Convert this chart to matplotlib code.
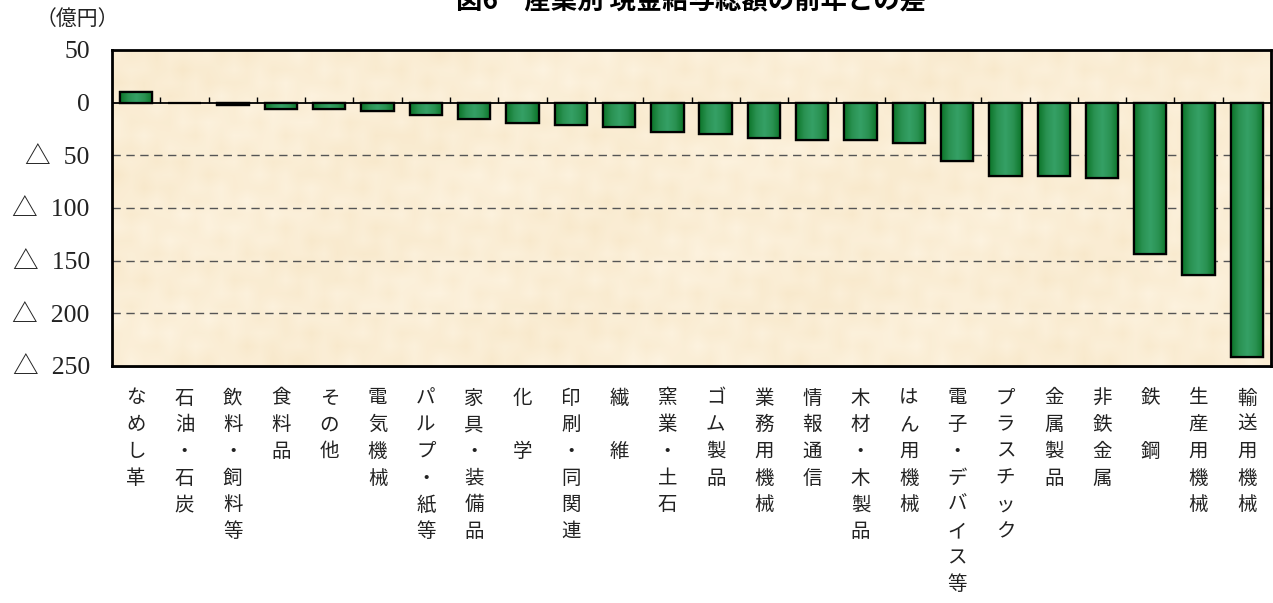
import matplotlib
matplotlib.use("Agg")
import matplotlib.pyplot as plt
import numpy as np
from matplotlib.colors import LinearSegmentedColormap
from matplotlib.patches import Rectangle
from matplotlib.transforms import blended_transform_factory

plt.rcParams["font.family"] = ["Noto Sans CJK JP", "DejaVu Sans"]

# 産業別 現金給与総額の前年との差（億円）
industries = ["なめし革", "石油・石炭", "飲料・飼料等", "食料品", "その他", "電気機械",
              "パルプ・紙等", "家具・装備品", "化　学", "印刷・同関連", "繊　維", "窯業・土石",
              "ゴム製品", "業務用機械", "情報通信", "木材・木製品", "はん用機械",
              "電子・デバイス等", "プラスチック", "金属製品", "非鉄金属", "鉄　鋼",
              "生産用機械", "輸送用機械"]
diff = [9.8, 0.0, -2.5, -6.4, -6.4, -8.0, -11.7, -15.9, -19.7, -21.6, -23.5, -27.6,
        -29.5, -33.3, -35.2, -35.2, -38.5, -55.7, -69.4, -69.4, -71.3, -144.0,
        -163.5, -241.8]
yticks = [50, 0, -50, -100, -150, -200, -250]
ytick_labels = ["50", "0", "△  50", "△  100", "△  150", "△  200", "△  250"]

W, H = 1273, 603
fig = plt.figure(figsize=(W / 100, H / 100), dpi=100)
ax = fig.add_axes([112 / W, 1 - 366 / H, 1159 / W, 316 / H])
ax.set_zorder(2)
ax.set_facecolor("#fcefd6")

# 枠の影
fig.patches.append(Rectangle((114 / W, 1 - 368 / H), 1159 / W, 316 / H,
                             transform=fig.transFigure, facecolor="#8a8a8a",
                             edgecolor="none", zorder=0))

ax.set_xlim(-0.5, len(industries) - 0.5)
ax.set_ylim(-250, 50)

# 背景の淡いまだら模様
gi, gj = np.meshgrid(np.arange(90), np.arange(24))
mottle = (np.sin(gi * 1.7 + gj * 2.3) * np.cos(gi * 0.9 - gj * 1.4)
          + 0.6 * np.sin(gi * 0.21 + gj * 0.5) * np.cos(gj * 0.33 - gi * 0.11))
paper = LinearSegmentedColormap.from_list("p", ["#fdf3e0", "#f8e8ca"])
ax.imshow(mottle, cmap=paper, aspect="auto", zorder=0, interpolation="bilinear",
          extent=(-0.5, len(industries) - 0.5, -250, 50))

x = np.arange(len(industries))
bars = ax.bar(x, diff, width=0.67, color="#1f8a45", edgecolor="black",
              linewidth=1.6, zorder=3)

# 棒の中を横方向のグラデーションで塗る
green = LinearSegmentedColormap.from_list(
    "g", ["#0b7428", "#2a9252", "#35a066", "#2a9252", "#0b7428"])
grad = np.linspace(0, 1, 64).reshape(1, -1)
for b in bars:
    if b.get_height() == 0:
        continue
    x0 = b.get_x()
    y0, y1 = sorted([b.get_y(), b.get_y() + b.get_height()])
    im = ax.imshow(grad, cmap=green, aspect="auto", zorder=3.5,
                   extent=(x0, x0 + b.get_width(), y0, y1), interpolation="bicubic")
    im.set_clip_path(b)
    edge = Rectangle((x0, b.get_y()), b.get_width(), b.get_height(), fill=False,
                     edgecolor="black", linewidth=1.6, zorder=4)
    ax.add_patch(edge)

ax.axhline(0, color="black", lw=1.3, zorder=5)
ax.vlines(x[:-1] + 0.5, 0, 5, color="black", lw=1, zorder=5)

for v in yticks[2:-1]:
    ax.axhline(v, color="#555555", lw=1, linestyle=(0, (6, 4)), zorder=1)

ax.set_xlim(-0.5, len(industries) - 0.5)
ax.set_ylim(-250, 50)
ax.set_xticks([])
ax.set_yticks(yticks)
ax.set_yticklabels(ytick_labels, family=["Liberation Serif", "Noto Sans CJK JP"],
                   fontsize=18.5, color="#222222")
ax.tick_params(axis="y", length=0, pad=16)
for s in ax.spines.values():
    s.set_linewidth(2)
    s.set_color("black")
    s.set_zorder(6)

# 縦書きの産業名
tr = blended_transform_factory(ax.transData, fig.transFigure)
for i, name in enumerate(industries):
    for j, ch in enumerate(name):
        ax.text(i, 1 - (398 + j * 26.7) / H, ch, transform=tr, ha="center",
                va="center", fontsize=14, color="#222222", clip_on=False)

fig.text(36 / W, 1 - 19 / H, "（億円）", ha="left", va="center", fontsize=15,
         color="#222222")
fig.text(691 / W, 1 - 15 / H, "図6　産業別 現金給与総額の前年との差", ha="center",
         va="bottom", fontsize=19, weight="bold")

fig.savefig("out.png", dpi=100)
